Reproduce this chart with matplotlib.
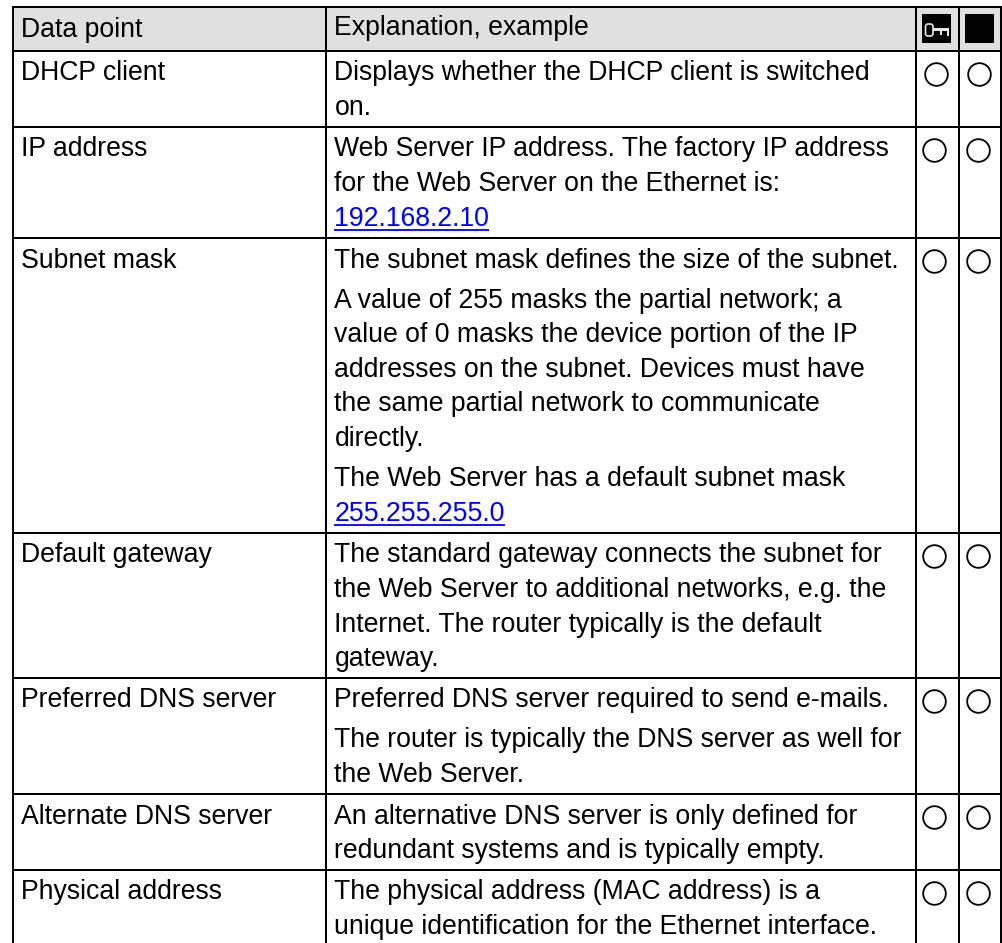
import matplotlib
matplotlib.use("Agg")
import matplotlib.pyplot as plt
from matplotlib.patches import Rectangle, FancyBboxPatch

plt.rcParams['font.family'] = ['Liberation Sans', 'DejaVu Sans']

# ---- content ----
header = ["Data point", "Explanation, example"]
data_points = ["DHCP client", "IP address", "Subnet mask", "Default gateway",
               "Preferred DNS server", "Alternate DNS server", "Physical address"]
# each row: paragraphs -> lines; a leading "@" marks a hyperlink line
explanations = [
    [["Displays whether the DHCP client is switched", "on."]],
    [["Web Server IP address. The factory IP address", "for the Web Server on the Ethernet is:", "@192.168.2.10"]],
    [["The subnet mask defines the size of the subnet."],
     ["A value of 255 masks the partial network; a", "value of 0 masks the device portion of the IP",
      "addresses on the subnet. Devices must have", "the same partial network to communicate", "directly."],
     ["The Web Server has a default subnet mask", "@255.255.255.0"]],
    [["The standard gateway connects the subnet for", "the Web Server to additional networks, e.g. the",
      "Internet. The router typically is the default", "gateway."]],
    [["Preferred DNS server required to send e-mails."],
     ["The router is typically the DNS server as well for", "the Web Server."]],
    [["An alternative DNS server is only defined for", "redundant systems and is typically empty."]],
    [["The physical address (MAC address) is a", "unique identification for the Ethernet interface."]],
]

# ---- layout (pixels) ----
W, H = 1003, 943
col_x = [13, 326, 916, 959, 1001.5]
top, head_bottom = 6.7, 50.6
row_bottoms = [126.8, 238, 533, 677.8, 794, 869.8, 950]
FS = 19.15
LH = 34.6
PGAP = 5.5
FIRST = 29.5
LW = 1.44
KEY = '#E8E8E8'

fig = plt.figure(figsize=(W / 100, H / 100), dpi=100)
ax = fig.add_axes([0, 0, 1, 1])
ax.set_xlim(0, W)
ax.set_ylim(H, 0)
ax.axis('off')

ax.add_patch(Rectangle((col_x[0], top), col_x[-1] - col_x[0], head_bottom - top,
                       facecolor='#E0E0E0', edgecolor='none', zorder=0))

# grid
for y in [top, head_bottom] + row_bottoms:
    ax.plot([col_x[0], col_x[-1]], [y, y], color='black', lw=LW, zorder=3, solid_capstyle='projecting')
for x in col_x:
    ax.plot([x, x], [top, H + 5], color='black', lw=LW, zorder=3, solid_capstyle='projecting')

# header text
ax.text(col_x[0] + 8, top + 30.5, header[0], fontsize=FS, va='baseline', color='black')
ax.text(col_x[1] + 8.5, top + 28.5, header[1], fontsize=FS, va='baseline', color='black')

# header icons
ax.add_patch(Rectangle((922.3, 14), 28.5, 28.7, facecolor='black', edgecolor='none', zorder=2))
ax.add_patch(Rectangle((965, 14), 29, 28.7, facecolor='black', edgecolor='none', zorder=2))
ax.add_patch(FancyBboxPatch((925.5, 24), 7.5, 12, boxstyle="round,pad=0,rounding_size=2.5",
                            facecolor='none', edgecolor=KEY, lw=1.2, zorder=4))
ax.add_patch(Rectangle((933, 28.3), 16, 3, facecolor=KEY, edgecolor='none', zorder=4))
ax.add_patch(Rectangle((940, 28.3), 2.4, 6.5, facecolor=KEY, edgecolor='none', zorder=4))
ax.add_patch(Rectangle((946.8, 28.3), 2.4, 8, facecolor=KEY, edgecolor='none', zorder=4))

# rows
fig.canvas.draw()
renderer = fig.canvas.get_renderer()
row_top = head_bottom
for i, (name, paras, bottom) in enumerate(zip(data_points, explanations, row_bottoms)):
    ax.text(col_x[0] + 8, row_top + FIRST, name, fontsize=FS, va='baseline', color='black')
    y = row_top + FIRST
    for p_i, para in enumerate(paras):
        if p_i:
            y += PGAP
        for line in para:
            link = line.startswith('@')
            t = ax.text(col_x[1] + 8.5, y, line.lstrip('@'), fontsize=FS, va='baseline',
                        color='#0000FF' if link else 'black')
            if link:
                bb = t.get_window_extent(renderer)
                ax.plot([bb.x0, bb.x1], [y + 4, y + 4], color='#0000FF', lw=1.3,
                        solid_capstyle='butt')
            y += LH
    shift = 1.4 if i == 0 else 0
    for x in (934.4 + shift, 977.8 + shift):
        ax.plot([x], [row_top + 23.4], marker='o', ms=16.3, mfc='none', mec='black', mew=1.3, zorder=4)
    row_top = bottom

fig.savefig('out.png', dpi=100)
